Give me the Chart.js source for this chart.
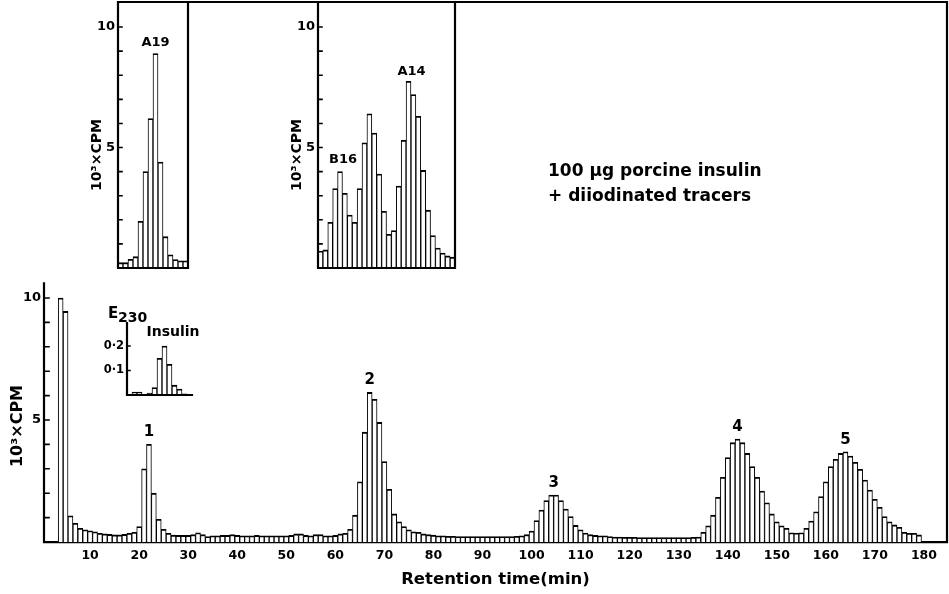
<!DOCTYPE html>
<html>
<head>
<meta charset="utf-8">
<script src="https://cdn.jsdelivr.net/npm/chart.js@4.4.1/dist/chart.umd.min.js"></script>
<style>
  html,body{margin:0;padding:0;background:#fff;}
  #wrap{position:relative;width:949px;height:594px;overflow:hidden;background:#fff;}
  canvas{position:absolute;}
  #main{left:0;top:0;}
  #insA19{left:80px;top:0;}
  #insB16{left:282px;top:0;}
  #insE230{left:95px;top:300px;}
</style>
</head>
<body>
<div id="wrap">
  <canvas id="main" width="949" height="594"></canvas>
  <canvas id="insA19" width="112" height="272"></canvas>
  <canvas id="insB16" width="178" height="272"></canvas>
  <canvas id="insE230" width="105" height="100"></canvas>
</div>
<script>
  // main run: 10^3 x CPM per 1-min fraction, fractions 1..179
  const cpm = [
    0, 0, 0, 10.0, 9.45, 1.07, 0.77, 0.56, 0.5, 0.46,
    0.42, 0.36, 0.33, 0.31, 0.29, 0.29, 0.31, 0.36, 0.4, 0.63,
    3.0, 4.0, 2.0, 0.93, 0.52, 0.36, 0.28, 0.27, 0.27, 0.27,
    0.3, 0.38, 0.3, 0.22, 0.25, 0.25, 0.27, 0.27, 0.3, 0.27,
    0.25, 0.25, 0.25, 0.27, 0.25, 0.25, 0.25, 0.25, 0.25, 0.25,
    0.27, 0.33, 0.33, 0.27, 0.25, 0.3, 0.3, 0.25, 0.25, 0.27,
    0.33, 0.36, 0.52, 1.1, 2.47, 4.5, 6.13, 5.85, 4.9, 3.3,
    2.16, 1.15, 0.83, 0.63, 0.5, 0.42, 0.4, 0.33, 0.3, 0.28,
    0.25, 0.25, 0.23, 0.23, 0.22, 0.22, 0.22, 0.22, 0.22, 0.22,
    0.22, 0.22, 0.22, 0.22, 0.22, 0.22, 0.23, 0.25, 0.3, 0.45,
    0.88, 1.31, 1.7, 1.92, 1.92, 1.7, 1.35, 1.04, 0.68, 0.5,
    0.37, 0.3, 0.27, 0.25, 0.25, 0.22, 0.2, 0.2, 0.19, 0.19,
    0.19, 0.18, 0.18, 0.18, 0.18, 0.18, 0.18, 0.18, 0.18, 0.18,
    0.18, 0.18, 0.19, 0.2, 0.4, 0.66, 1.1, 1.83, 2.65, 3.46,
    4.07, 4.22, 4.07, 3.63, 3.09, 2.65, 2.09, 1.61, 1.15, 0.83,
    0.66, 0.56, 0.38, 0.37, 0.38, 0.56, 0.86, 1.24, 1.86, 2.47,
    3.09, 3.39, 3.63, 3.7, 3.52, 3.27, 2.98, 2.54, 2.13, 1.75,
    1.42, 1.04, 0.83, 0.7, 0.6, 0.4, 0.36, 0.36, 0.29
  ];
  const minutes = cpm.map((_, i) => i + 1);
  const xTicks = [10, 20, 30, 40, 50, 60, 70, 80, 90, 100, 110, 120, 130, 140, 150, 160, 170, 180];
  const yTicksMain = [1, 2, 3, 4, 5, 6, 7, 8, 9, 10];
  const yLabelsMain = [5, 10];
  const peakLabels = ['1', '2', '3', '4', '5'];
  const peakAt = [22, 67, 104.5, 142, 164];

  // inset runs
  const cpmA19 = [0.22, 0.22, 0.36, 0.47, 1.94, 4.0, 6.2, 8.9, 4.4, 1.3, 0.55, 0.35, 0.3, 0.3];
  const cpmB16 = [0.7, 0.75, 1.9, 3.3, 4.0, 3.1, 2.2, 1.9, 3.3, 5.2, 6.4, 5.6, 3.9, 2.35,
                  1.4, 1.55, 3.4, 5.3, 7.75, 7.2, 6.3, 4.05, 2.4, 1.35, 0.83, 0.62, 0.5, 0.45];
  const e230 = [0, 0.012, 0.012, 0, 0.008, 0.03, 0.15, 0.2, 0.125, 0.04, 0.024, 0.005, 0];
  const fracA19 = cpmA19.map((_, i) => i + 1);
  const fracB16 = cpmB16.map((_, i) => i + 1);
  const fracIns = e230.map((_, i) => i + 1);
  const yTicksInset = [1, 2, 3, 4, 5, 6, 7, 8, 9, 10];
  const yLabelsInset = [5, 10];
  const yTicksE230 = [0.1, 0.2];

  const FONT = "'DejaVu Sans', sans-serif";
  const INK = '#000';
  const f = px => 'bold ' + px + 'px ' + FONT;

  function valueNear(xs, ys, at){
    return Math.max(...ys.filter((_, i) => Math.abs(xs[i] - at) <= 0.5));
  }

  function barSet(xs, ys){
    return {
      data: xs.map((x, i) => ({x, y: ys[i]})),
      backgroundColor: '#fff', borderColor: INK,
      borderWidth: {top: 1.8, left: 1, right: 1, bottom: 0},
      barPercentage: 1, categoryPercentage: 1
    };
  }

  // box / axis lines and inward tick marks
  const frame = {
    id: 'frame',
    afterDatasetsDraw(chart, args, o){
      const {ctx, chartArea: a, scales: {x, y}} = chart;
      ctx.save();
      ctx.strokeStyle = INK; ctx.lineWidth = 2.2; ctx.lineCap = 'square';
      ctx.beginPath();
      if(o.box) ctx.rect(a.left, a.top, a.right - a.left, a.bottom - a.top);
      if(o.axes){ ctx.moveTo(a.left, a.top); ctx.lineTo(a.left, a.bottom); ctx.lineTo(a.right, a.bottom); }
      if(o.axisTop != null){ ctx.moveTo(a.left, a.bottom); ctx.lineTo(a.left, y.getPixelForValue(o.axisTop)); }
      if(o.topFrom != null){ ctx.moveTo(x.getPixelForValue(o.topFrom), a.top); ctx.lineTo(a.right, a.top); ctx.lineTo(a.right, a.bottom); }
      ctx.stroke();
      if(o.tickLen){
        ctx.lineWidth = 1.6; ctx.beginPath();
        y.ticks.forEach(t => { const py = y.getPixelForValue(t.value); ctx.moveTo(a.left, py); ctx.lineTo(a.left + o.tickLen, py); });
        ctx.stroke();
      }
      ctx.restore();
    }
  };

  // free text: data coords (x,y) with pixel nudges, or pixel coords (px,py)
  const notes = {
    id: 'notes',
    afterDraw(chart, args, o){
      const {ctx, scales: {x, y}} = chart;
      (o.items || []).forEach(n => {
        const px = n.px != null ? n.px : x.getPixelForValue(n.x) + (n.dx || 0);
        const py = n.py != null ? n.py : y.getPixelForValue(n.y) + (n.dy || 0);
        ctx.save();
        ctx.font = n.font; ctx.fillStyle = INK;
        ctx.textAlign = n.align || 'center'; ctx.textBaseline = 'middle';
        ctx.translate(px, py);
        if(n.rot) ctx.rotate(n.rot);
        ctx.fillText(n.text, 0, 0);
        ctx.restore();
      });
    }
  };
  Chart.register(frame, notes);

  const peakNotes = peakLabels.map((t, i) => ({
    text: t, x: peakAt[i], y: valueNear(minutes, cpm, peakAt[i]), dy: -12, font: f(15)
  }));

  new Chart(document.getElementById('main'), {
    type: 'bar',
    data: {datasets: [barSet(minutes, cpm)]},
    options: {
      responsive: false, animation: false, devicePixelRatio: 1,
      layout: {padding: {top: 2, right: 2, bottom: 0, left: 0}},
      plugins: {
        legend: {display: false}, tooltip: {enabled: false},
        frame: {axisTop: 10.6, topFrom: 15.7, tickLen: 5},
        notes: {items: peakNotes.concat([
          {text: '100 µg porcine insulin', px: 548, py: 172, align: 'left', font: f(17)},
          {text: '+ diiodinated tracers', px: 548, py: 197, align: 'left', font: f(17)},
          {text: '10³×CPM', px: 18, py: 426, rot: -Math.PI / 2, font: f(16)}
        ])}
      },
      scales: {
        x: {
          type: 'linear', min: 0.6, max: 184.7, offset: false,
          afterBuildTicks: s => { s.ticks = xTicks.map(v => ({value: v})); },
          afterFit: s => { s.height = 52; s.paddingLeft = 0; s.paddingRight = 0; },
          grid: {display: false, drawTicks: false},
          border: {display: true, color: INK, width: 2.2},
          ticks: {padding: 6, color: INK, autoSkip: false, maxRotation: 0, font: {family: FONT, size: 12.5, weight: 'bold'}},
          title: {display: true, text: 'Retention time(min)', color: INK, font: {family: FONT, size: 16.5, weight: 'bold'}, padding: {top: 0, bottom: 4}}
        },
        y: {
          min: 0, max: 22.13,
          afterBuildTicks: s => { s.ticks = yTicksMain.map(v => ({value: v})); },
          afterFit: s => { s.width = 44; s.paddingTop = 0; s.paddingBottom = 0; },
          grid: {display: false, drawTicks: false},
          border: {display: false},
          ticks: {padding: 3, color: INK, font: {family: FONT, size: 13, weight: 'bold'}, callback: v => yLabelsMain.includes(v) ? String(v) : ''}
        }
      }
    }
  });

  function insetChart(id, xs, ys, o){
    return new Chart(document.getElementById(id), {
      type: 'bar',
      data: {datasets: [barSet(xs, ys)]},
      options: {
        responsive: false, animation: false, devicePixelRatio: 1,
        layout: {padding: o.pad},
        plugins: {legend: {display: false}, tooltip: {enabled: false}, frame: o.frame, notes: {items: o.notes}},
        scales: {
          x: {type: 'linear', display: false, min: 0.5, max: xs.length + 0.5, offset: false},
          y: {
            min: 0, max: o.yMax,
            afterBuildTicks: s => { s.ticks = o.yTicks.map(v => ({value: v})); },
            afterFit: s => { s.width = o.yWidth; s.paddingTop = 0; s.paddingBottom = 0; },
            grid: {display: false, drawTicks: false},
            border: {display: false},
            ticks: {padding: 3, color: INK, font: {family: FONT, size: o.tickSize, weight: 'bold'}, callback: o.fmt}
          }
        }
      }
    });
  }

  insetChart('insA19', fracA19, cpmA19, {
    pad: {top: 2, right: 4, bottom: 4, left: 0}, yWidth: 38, yMax: 11.04,
    yTicks: yTicksInset, tickSize: 13, fmt: v => yLabelsInset.includes(v) ? String(v) : '',
    frame: {box: true, tickLen: 4},
    notes: [
      {text: 'A19', x: 8, y: valueNear(fracA19, cpmA19, 8), dy: -11, font: f(13)},
      {text: '10³×CPM', px: 17, py: 155, rot: -Math.PI / 2, font: f(14)}
    ]
  });

  insetChart('insB16', fracB16, cpmB16, {
    pad: {top: 2, right: 5, bottom: 4, left: 0}, yWidth: 36, yMax: 11.04,
    yTicks: yTicksInset, tickSize: 13, fmt: v => yLabelsInset.includes(v) ? String(v) : '',
    frame: {box: true, tickLen: 4},
    notes: [
      {text: 'B16', x: 5, y: valueNear(fracB16, cpmB16, 5), dx: 3, dy: -12, font: f(13)},
      {text: 'A14', x: 19, y: valueNear(fracB16, cpmB16, 19), dx: 3, dy: -10, font: f(13)},
      {text: '10³×CPM', px: 15, py: 155, rot: -Math.PI / 2, font: f(14)}
    ]
  });

  insetChart('insE230', fracIns, e230, {
    pad: {top: 23, right: 8, bottom: 5, left: 0}, yWidth: 32, yMax: 0.294,
    yTicks: yTicksE230, tickSize: 11.5, fmt: v => v.toFixed(1).replace('.', '·'),
    frame: {axes: true, tickLen: 3},
    notes: [
      {text: 'E', px: 13, py: 14, align: 'left', font: f(15)},
      {text: '230', px: 23, py: 18, align: 'left', font: f(14)},
      {text: 'Insulin', px: 78, py: 32, font: f(14)}
    ]
  });
</script>
</body>
</html>
